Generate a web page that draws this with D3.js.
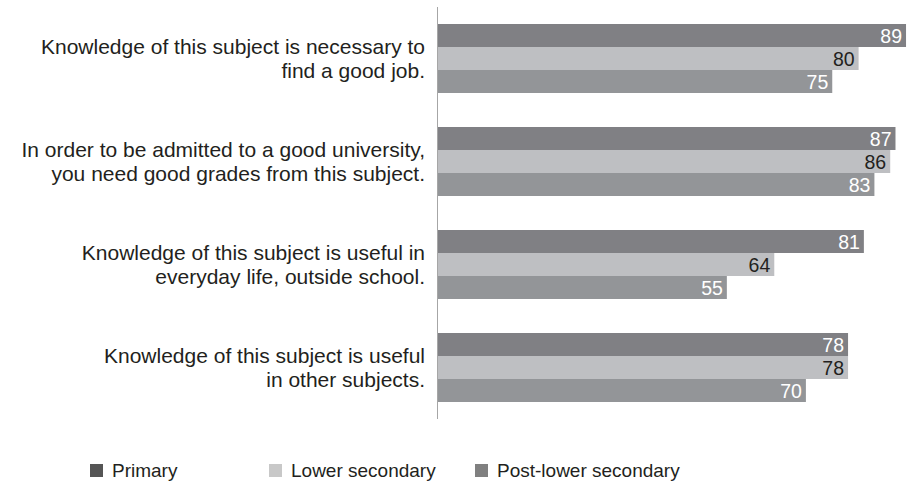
<!DOCTYPE html>
<html>
<head>
<meta charset="utf-8">
<script src="https://cdn.jsdelivr.net/npm/d3@7.9.0/dist/d3.min.js"></script>
<style>
  body { margin: 0; background: #fff; }
  svg { display: block; font-family: "Liberation Sans", Arial, sans-serif; }
</style>
</head>
<body>
<svg id="chart" width="907" height="484"></svg>
<script>
// data
const categories = ['job', 'university', 'everyday', 'other'];
const categoryLines = [
  ['Knowledge of this subject is necessary to', 'find a good job.'],
  ['In order to be admitted to a good university,', 'you need good grades from this subject.'],
  ['Knowledge of this subject is useful in', 'everyday life, outside school.'],
  ['Knowledge of this subject is useful', 'in other subjects.']
];
const series = ['Primary', 'Lower secondary', 'Post-lower secondary'];
const primary = [89, 87, 81, 78];
const lowerSecondary = [80, 86, 64, 78];
const postLowerSecondary = [75, 83, 55, 70];

const values = [primary, lowerSecondary, postLowerSecondary];

const barColors = ['#808084', '#bebfc2', '#939598'];
const legendColors = ['#555555', '#c8c8c8', '#808080'];
const labelColors = ['#ffffff', '#231f20', '#ffffff'];

const svg = d3.select('#chart');

let x = d3.scaleLinear().domain([0, 100]).range([437, 437 + 527]);
let y = d3.scaleBand().domain(categories).range([7, 419]).paddingInner(0.33).paddingOuter(0.165);
let ySub = d3.scaleBand().domain(series).range([0, y.bandwidth()]);

// bars + value labels
categories.forEach((cat, ci) => {
  let g = svg.append('g').attr('transform', `translate(0,${y(cat)})`);
  series.forEach((s, si) => {
    let v = values[si][ci];
    g.append('rect')
      .attr('x', x(0))
      .attr('y', ySub(s))
      .attr('width', x(v) - x(0))
      .attr('height', ySub.bandwidth())
      .attr('fill', barColors[si]);
    g.append('text')
      .attr('x', x(v) - 4)
      .attr('y', ySub(s) + ySub.bandwidth() / 2)
      .attr('dy', '0.36em')
      .attr('text-anchor', 'end')
      .attr('font-size', 19.5)
      .attr('fill', labelColors[si])
      .text(v);
  });

  // category label, two lines centred on the group (one text, two tspans)
  let mid = y(cat) + y.bandwidth() / 2;
  let lines = categoryLines[ci];
  let lh = 24;
  let label = svg.append('text')
    .attr('text-anchor', 'end')
    .attr('font-size', 21)
    .attr('fill', '#231f20');
  lines.forEach((line, li) => {
    label.append('tspan')
      .attr('x', 425)
      .attr('y', mid + (li - (lines.length - 1) / 2) * lh)
      .attr('dy', '0.36em')
      .text(line);
  });
});

// vertical axis line
svg.append('line')
  .attr('x1', x(0) + 0.5).attr('x2', x(0) + 0.5)
  .attr('y1', 7).attr('y2', 419)
  .attr('stroke', '#a6a6a6')
  .attr('stroke-width', 1);

// legend
const legendX = [90, 269, 475];
series.forEach((s, i) => {
  let lg = svg.append('g').attr('transform', `translate(${legendX[i]},464)`);
  lg.append('rect')
    .attr('width', 13).attr('height', 13)
    .attr('fill', legendColors[i]);
  lg.append('text')
    .attr('x', 22)
    .attr('y', 6.5)
    .attr('dy', '0.36em')
    .attr('font-size', 19)
    .attr('fill', '#231f20')
    .text(s);
});
</script>
</body>
</html>
